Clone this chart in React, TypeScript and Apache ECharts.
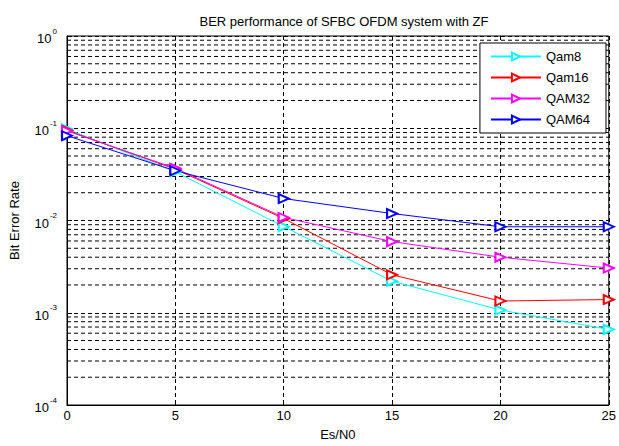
import React, { useEffect, useRef } from "react";
import * as echarts from "echarts";

const snr = [0, 5, 10, 15, 20, 25];
const qam8 = [0.098, 0.0337, 0.0086, 0.0022, 0.00107, 0.00066];
const qam16 = [0.095, 0.036, 0.0105, 0.00258, 0.00134, 0.00139];
const qam32 = [0.0935, 0.0368, 0.0108, 0.0059, 0.004, 0.00305];
const qam64 = [0.083, 0.0346, 0.0173, 0.0119, 0.00855, 0.00855];
const seriesNames = ["Qam8", "Qam16", "QAM32", "QAM64"];
const seriesColors = ["#00ffff", "#ff0000", "#ff00ff", "#0000ff"];
const xTicks = [0, 5, 10, 15, 20, 25];
const decades = [-4, -3, -2, -1, 0];
const minorMultipliers = [2, 3, 4, 5, 6, 7, 8, 9];

const FONT = "Liberation Sans";

export default function App() {
  const ref = useRef<HTMLDivElement>(null);
  useEffect(() => {
    document.body.style.margin = "0";
    const chart = echarts.init(ref.current!, null, { renderer: "svg" });
    const minorVals: number[] = [];
    for (let d = -4; d < 0; d++) {
      for (const m of minorMultipliers) minorVals.push(m * Math.pow(10, d));
    }
    const series: any[] = minorVals.map((v) => ({
      type: "line",
      data: [
        [0, v],
        [25, v],
      ],
      symbol: "none",
      silent: true,
      lineStyle: { color: "#000", type: [4, 3], width: 1 },
      z: 1,
    }));
    const datasets = [qam8, qam16, qam32, qam64];
    datasets.forEach((vals, i) =>
      series.push({
        name: seriesNames[i],
        type: "line",
        data: snr.map((x, j) => [x, vals[j]]),
        symbol: "emptyTriangle",
        symbolRotate: -90,
        symbolSize: [9, 10],
        lineStyle: { color: seriesColors[i], width: 1 },
        itemStyle: { color: seriesColors[i], borderColor: seriesColors[i], borderWidth: 1 },
        z: 5,
      })
    );
    chart.setOption({
      animation: false,
      backgroundColor: "#fff",
      title: {
        text: "BER performance of SFBC OFDM system with ZF",
        left: 339,
        textAlign: "center",
        top: 10,
        textStyle: { fontFamily: FONT, fontSize: 13, fontWeight: "normal", color: "#000" },
      },
      legend: {
        data: seriesNames,
        orient: "vertical",
        right: 13,
        top: 43,
        backgroundColor: "#fff",
        borderColor: "#000",
        borderWidth: 1,
        padding: [7, 16, 7, 10],
        itemWidth: 50,
        itemHeight: 10,
        itemGap: 8,
        textStyle: { fontFamily: FONT, fontSize: 13, color: "#000" },
        z: 10,
      },
      grid: {
        left: 67,
        top: 36,
        right: 6,
        bottom: 38,
        show: true,
        borderColor: "#000",
        borderWidth: 1,
      },
      xAxis: {
        type: "value",
        min: 0,
        max: 25,
        interval: 5,
        name: "Es/N0",
        nameLocation: "middle",
        nameGap: 23,
        nameTextStyle: { fontFamily: FONT, fontSize: 13, color: "#000" },
        axisLine: { show: true, lineStyle: { color: "#000" } },
        axisTick: { inside: true, length: 5, lineStyle: { color: "#000" } },
        axisLabel: {
          fontFamily: FONT,
          fontSize: 13,
          color: "#000",
          margin: 4,
          formatter: (v: number) => (xTicks.includes(v) ? String(v) : ""),
        },
        splitLine: { show: true, lineStyle: { color: "#000", type: [4, 3], width: 1 } },
      },
      yAxis: {
        type: "log",
        logBase: 10,
        min: 1e-4,
        max: 1,
        name: "Bit Error Rate",
        nameLocation: "middle",
        nameGap: 46,
        nameTextStyle: { fontFamily: FONT, fontSize: 13, color: "#000" },
        axisLine: { show: true, lineStyle: { color: "#000" } },
        axisTick: { inside: true, length: 5, lineStyle: { color: "#000" } },
        axisLabel: {
          color: "#000",
          margin: 10,
          formatter: (v: number) => {
            const e = Math.round(Math.log10(v));
            return decades.includes(e) ? `{b|10}{s|${e}}` : "";
          },
          rich: {
            b: { fontFamily: FONT, fontSize: 13, color: "#000", verticalAlign: "bottom" },
            s: { fontFamily: FONT, fontSize: 8, color: "#000", verticalAlign: "top", padding: [0, 0, 10, 1] },
          },
        },
        splitLine: { show: true, lineStyle: { color: "#000", type: [4, 3], width: 1 } },
      },
      series,
    });
    return () => chart.dispose();
  }, []);
  return <div ref={ref} style={{ width: 619, height: 446 }} />;
}
